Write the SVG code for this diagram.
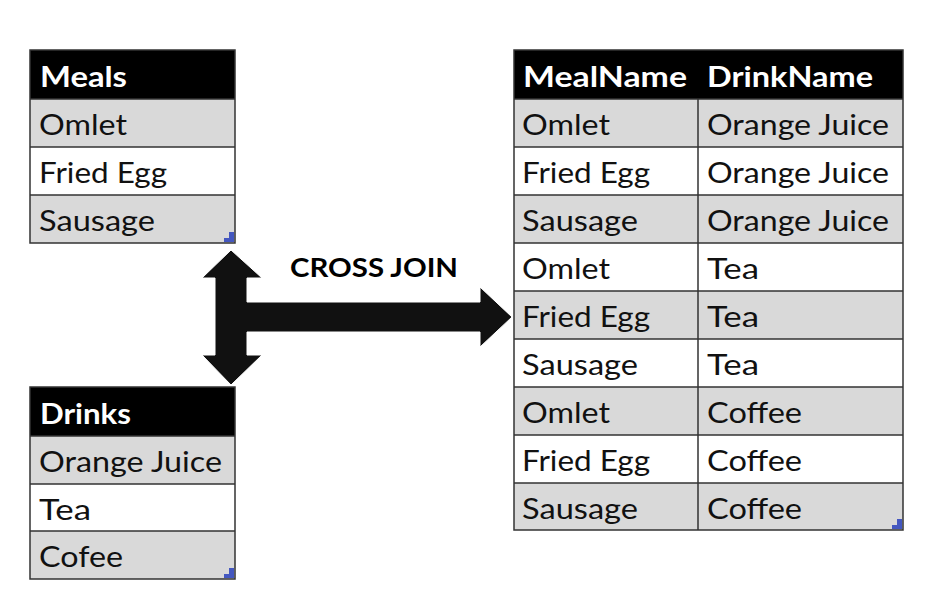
<svg xmlns="http://www.w3.org/2000/svg" width="938" height="600" viewBox="0 0 938 600">
<style>
.hdr{fill:#000}
.g{fill:#d9d9d9}
.w{fill:#fff}
.ln{stroke:#333;stroke-width:1.5;fill:none}
.t{font-family:Lato,"Open Sans",sans-serif;font-size:29px;fill:#111}
.h{font-family:Lato,"Open Sans",sans-serif;font-size:28px;font-weight:bold;fill:#fff}
.cj{font-family:Lato,"Open Sans",sans-serif;font-size:26px;font-weight:bold;fill:#000}
.hdl{fill:#4457c0}
</style>
<rect width="938" height="600" fill="#fff"/>
<g id="meals">
<rect class="hdr" x="30" y="50" width="205" height="49"/>
<rect class="g" x="30" y="99" width="205" height="48"/>
<rect class="w" x="30" y="147" width="205" height="48"/>
<rect class="g" x="30" y="195" width="205" height="48"/>
<path class="ln" d="M30 50H235V243H30Z M30 99H235 M30 147H235 M30 195H235"/>
<text class="h" x="40" y="87" textLength="87" lengthAdjust="spacingAndGlyphs">Meals</text>
<text class="t" x="39" y="135" textLength="88" lengthAdjust="spacingAndGlyphs">Omlet</text>
<text class="t" x="39" y="183" textLength="128" lengthAdjust="spacingAndGlyphs">Fried Egg</text>
<text class="t" x="39" y="231" textLength="116" lengthAdjust="spacingAndGlyphs">Sausage</text>
<path class="hdl" d="M234 232V242H224V238H229V232Z"/>
</g>
<g id="drinks">
<rect class="hdr" x="30" y="387" width="205" height="49"/>
<rect class="g" x="30" y="436" width="205" height="48"/>
<rect class="w" x="30" y="484" width="205" height="47"/>
<rect class="g" x="30" y="531" width="205" height="48"/>
<path class="ln" d="M30 387H235V579H30Z M30 436H235 M30 484H235 M30 531H235"/>
<text class="h" x="40" y="424" textLength="91" lengthAdjust="spacingAndGlyphs">Drinks</text>
<text class="t" x="39" y="472" textLength="183" lengthAdjust="spacingAndGlyphs">Orange Juice</text>
<text class="t" x="39" y="520" textLength="52" lengthAdjust="spacingAndGlyphs">Tea</text>
<text class="t" x="39" y="567" textLength="84" lengthAdjust="spacingAndGlyphs">Cofee</text>
<path class="hdl" d="M234 568V578H224V574H229V568Z"/>
</g>
<g id="result">
<rect class="hdr" x="514" y="50" width="389" height="49"/>
<rect class="g" x="514" y="99" width="389" height="48"/>
<rect class="w" x="514" y="147" width="389" height="48"/>
<rect class="g" x="514" y="195" width="389" height="48"/>
<rect class="w" x="514" y="243" width="389" height="48"/>
<rect class="g" x="514" y="291" width="389" height="48"/>
<rect class="w" x="514" y="339" width="389" height="48"/>
<rect class="g" x="514" y="387" width="389" height="48"/>
<rect class="w" x="514" y="435" width="389" height="48"/>
<rect class="g" x="514" y="483" width="389" height="47"/>
<path class="ln" d="M514 50H903V530H514Z M514 99H903 M514 147H903 M514 195H903 M514 243H903 M514 291H903 M514 339H903 M514 387H903 M514 435H903 M514 483H903 M698 99V530"/>
<text class="h" x="523" y="87" textLength="164" lengthAdjust="spacingAndGlyphs">MealName</text>
<text class="h" x="707" y="87" textLength="166" lengthAdjust="spacingAndGlyphs">DrinkName</text>
<text class="t" x="522" y="135" textLength="88" lengthAdjust="spacingAndGlyphs">Omlet</text>
<text class="t" x="707" y="135" textLength="182" lengthAdjust="spacingAndGlyphs">Orange Juice</text>
<text class="t" x="522" y="183" textLength="128" lengthAdjust="spacingAndGlyphs">Fried Egg</text>
<text class="t" x="707" y="183" textLength="182" lengthAdjust="spacingAndGlyphs">Orange Juice</text>
<text class="t" x="522" y="231" textLength="116" lengthAdjust="spacingAndGlyphs">Sausage</text>
<text class="t" x="707" y="231" textLength="182" lengthAdjust="spacingAndGlyphs">Orange Juice</text>
<text class="t" x="522" y="279" textLength="88" lengthAdjust="spacingAndGlyphs">Omlet</text>
<text class="t" x="707" y="279" textLength="52" lengthAdjust="spacingAndGlyphs">Tea</text>
<text class="t" x="522" y="327" textLength="128" lengthAdjust="spacingAndGlyphs">Fried Egg</text>
<text class="t" x="707" y="327" textLength="52" lengthAdjust="spacingAndGlyphs">Tea</text>
<text class="t" x="522" y="375" textLength="116" lengthAdjust="spacingAndGlyphs">Sausage</text>
<text class="t" x="707" y="375" textLength="52" lengthAdjust="spacingAndGlyphs">Tea</text>
<text class="t" x="522" y="423" textLength="88" lengthAdjust="spacingAndGlyphs">Omlet</text>
<text class="t" x="707" y="423" textLength="95" lengthAdjust="spacingAndGlyphs">Coffee</text>
<text class="t" x="522" y="471" textLength="128" lengthAdjust="spacingAndGlyphs">Fried Egg</text>
<text class="t" x="707" y="471" textLength="95" lengthAdjust="spacingAndGlyphs">Coffee</text>
<text class="t" x="522" y="519" textLength="116" lengthAdjust="spacingAndGlyphs">Sausage</text>
<text class="t" x="707" y="519" textLength="95" lengthAdjust="spacingAndGlyphs">Coffee</text>
<path class="hdl" d="M902 519V529H892V525H897V519Z"/>
</g>
<g id="connectors">
<path d="M231 250L262 278H247V302H480V287L512 317L480 347V332H247V355H262L231 385L202 355H215V278H202Z" fill="#111" stroke="#fff" stroke-width="1"/>
<text class="cj" x="290" y="277" textLength="168" lengthAdjust="spacingAndGlyphs">CROSS JOIN</text>
</g>
</svg>
